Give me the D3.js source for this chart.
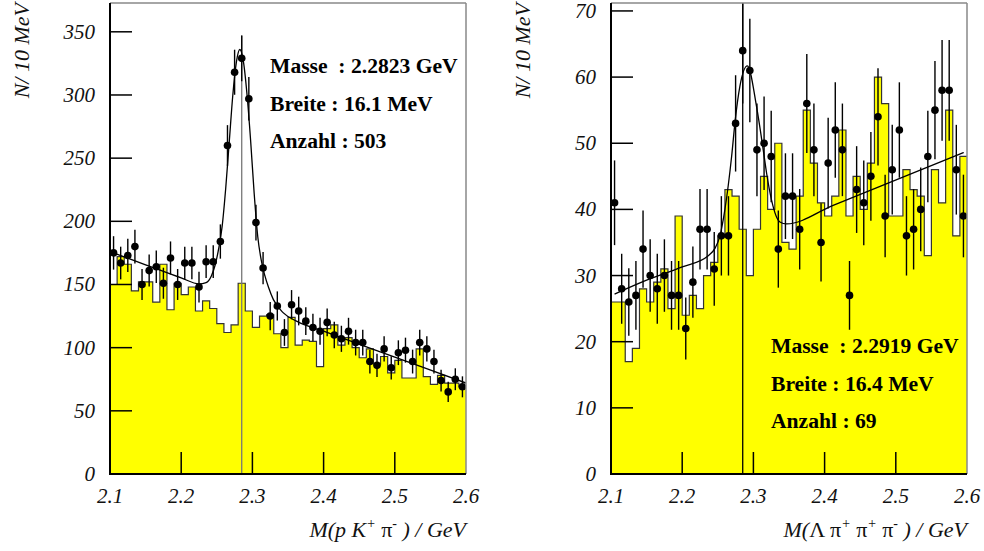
<html>
<head>
  <title> </title>
  <script src="https://d3js.org/d3.v7.min.js"></script>
  <style>
  body { margin: 0; background: white; }
  text { font-family: "Liberation Serif", "Times New Roman", serif; }
  .tick-label { font-style: italic; font-size: 21px; fill: #111; }
  .axis-title { font-style: italic; font-size: 22px; fill: #111; }
  .upright { font-style: normal; }
  .stat { font-weight: bold; font-size: 21.6px; fill: #000; }
  .fit { fill: none; stroke: #000; stroke-width: 1.3px; }
  .err { stroke: #000; stroke-width: 1.4px; }
  .dot { fill: #000; }
  </style>
</head>
<body>
<svg id="chart" width="984" height="551"></svg>
<script>
// bins: 2.10 - 2.60 GeV, 10 MeV wide
const binLo = 2.1, binW = 0.01;

// left: p K+ pi-
const pkpiData = [175,167,173,180,150,161,164,151,171,150,167,167,148,168,168,184,260,318,329,297,
                  199,163,125,133,112,134,129,121,116,113,120,110,107,113,104,104,89,86,99,84,
                  96,98,89,104,99,89,74,65,75,69];
const pkpiBack = [150,172,166,145,152,152,136,166,130,151,142,148,129,137,131,119,112,118,151,129,
                  116,125,126,111,100,124,102,106,105,85,115,118,102,108,100,92,99,87,93,80,
                  90,76,76,99,77,71,78,72,72,69];
const pkpiFit = [[2.100,176],[2.150,165.6],[2.200,155.2],[2.225,150.5],[2.235,151.5],[2.2425,157],
                 [2.2475,165],[2.2525,178],[2.2575,196],[2.2625,226],[2.2675,263],[2.2725,300],
                 [2.2775,326],[2.2823,336],[2.2875,326],[2.2925,300],[2.2975,264],[2.3025,222],
                 [2.3075,188],[2.3125,169],[2.3175,157],[2.3225,148],[2.3295,138],[2.3435,127.5],
                 [2.362,121],[2.40,113],[2.50,92.5],[2.60,72]];
const pkpiTicks = [0,50,100,150,200,250,300,350];
const pkpiStats = ["Masse  : 2.2823 GeV", "Breite : 16.1 MeV", "Anzahl : 503"];

// right: Lambda pi+ pi+ pi-
const l3piData = [41,28,26,27,34,30,28,30,27,27,22,29,37,37,31,36,36,53,64,61,
                  49,50,48,34,42,42,37,56,49,35,47,52,49,27,43,41,45,54,39,46,
                  52,36,37,40,48,55,58,58,46,39];
const l3piBack = [26,26,17,19,28,26,29,31,25,39,24,27,25,30,32,36,43,42,37,30,
                  37,45,40,50,35,34,42,55,47,41,39,42,52,39,45,40,47,60,56,39,
                  39,46,43,42,33,46,41,55,36,48];
const l3piFit = [[2.105,27.2],[2.15,29.3],[2.20,31.3],[2.2366,33.0],[2.246,34.1],[2.253,36],
                 [2.26,40],[2.2694,48],[2.2745,53.5],[2.281,58.6],[2.2915,61.7],[2.3045,55.5],
                 [2.3138,49],[2.3185,45.5],[2.3255,41.4],[2.3372,38.1],[2.3465,37.8],
                 [2.412,40.6],[2.5954,48.6]];
const l3piTicks = [0,10,20,30,40,50,60,70];
const l3piStats = ["Masse  : 2.2919 GeV", "Breite : 16.4 MeV", "Anzahl : 69"];

const xTicks = [2.1,2.2,2.3,2.4,2.5,2.6];
const markMass = 2.285;

const svg = d3.select("#chart");

function drawPanel(opt) {
  const g = svg.append("g");
  const x = d3.scaleLinear().domain([2.1, 2.6]).range([opt.x0, opt.x1]);
  const y = d3.scaleLinear().domain([0, opt.ymax]).range([474, 3]);

  const clipId = "clip" + opt.id;
  svg.append("clipPath").attr("id", clipId)
    .append("rect").attr("x", opt.x0).attr("y", 3)
    .attr("width", opt.x1 - opt.x0).attr("height", 471);

  const plot = g.append("g").attr("clip-path", "url(#" + clipId + ")");

  // background histogram (step)
  const steps = [];
  opt.back.forEach((v, i) => {
    steps.push([binLo + i * binW, v]);
    steps.push([binLo + (i + 1) * binW, v]);
  });
  const area = d3.area().x(d => x(d[0])).y0(y(0)).y1(d => y(d[1]));
  plot.append("path").datum(steps)
    .attr("d", area).attr("fill", "#ffff00").attr("stroke", "none");
  plot.append("path").datum(steps)
    .attr("d", d3.line().x(d => x(d[0])).y(d => y(d[1])))
    .attr("fill", "none").attr("stroke", "#333").attr("stroke-width", 1.2);

  // marker line
  plot.append("line")
    .attr("x1", x(markMass)).attr("x2", x(markMass))
    .attr("y1", y(0)).attr("y2", y(opt.markTop))
    .attr("stroke", opt.markColor).attr("stroke-width", 1.3);

  // fit curve
  plot.append("path").datum(opt.fit)
    .attr("class", "fit")
    .attr("d", d3.line().x(d => x(d[0])).y(d => y(d[1])).curve(d3.curveMonotoneX));

  // data points with sqrt(N) errors
  const pts = plot.selectAll(".pt").data(opt.data).enter().append("g");
  pts.append("line").attr("class", "err")
    .attr("x1", (d, i) => x(binLo + (i + 0.5) * binW))
    .attr("x2", (d, i) => x(binLo + (i + 0.5) * binW))
    .attr("y1", d => y(d - Math.sqrt(d)))
    .attr("y2", d => y(d + Math.sqrt(d)));
  pts.append("circle").attr("class", "dot")
    .attr("cx", (d, i) => x(binLo + (i + 0.5) * binW))
    .attr("cy", d => y(d))
    .attr("r", 3.8);

  // frame
  g.append("line").attr("x1", opt.x0).attr("x2", opt.x1).attr("y1", 3).attr("y2", 3)
    .attr("stroke", "#888").attr("stroke-width", 1.5);
  g.append("line").attr("x1", opt.x1).attr("x2", opt.x1).attr("y1", 3).attr("y2", 474)
    .attr("stroke", "#888").attr("stroke-width", 1.5);
  g.append("line").attr("x1", opt.x0).attr("x2", opt.x0).attr("y1", 3).attr("y2", 475)
    .attr("stroke", "#000").attr("stroke-width", 2);
  g.append("line").attr("x1", opt.x0).attr("x2", opt.x1).attr("y1", 474).attr("y2", 474)
    .attr("stroke", "#000").attr("stroke-width", 2);

  // y ticks
  g.selectAll(".yt").data(opt.yticks).enter().append("line")
    .attr("x1", opt.x0).attr("x2", opt.x0 + 22)
    .attr("y1", d => y(d)).attr("y2", d => y(d))
    .attr("stroke", "#000").attr("stroke-width", 1.5);
  g.selectAll(".yl").data(opt.yticks).enter().append("text")
    .attr("class", "tick-label")
    .attr("x", opt.x0 - 15).attr("y", d => y(d) + 7)
    .attr("text-anchor", "end").text(d => d);

  // x ticks
  g.selectAll(".xt").data(xTicks.slice(1, -1)).enter().append("line")
    .attr("x1", d => x(d)).attr("x2", d => x(d))
    .attr("y1", 474).attr("y2", 474 - 22)
    .attr("stroke", "#000").attr("stroke-width", 1.5);
  g.selectAll(".xl").data(xTicks).enter().append("text")
    .attr("class", "tick-label")
    .attr("x", d => x(d)).attr("y", 503)
    .attr("text-anchor", "middle").text(d => d.toFixed(1));

  // y title
  g.append("text").attr("class", "axis-title")
    .attr("transform", "translate(" + (opt.x0 - 81) + ",3) rotate(-90)")
    .attr("text-anchor", "end").text("N/ 10 MeV");

  // x title: [text, kind] kind: 0 normal, 1 superscript, 2 upright symbol
  const xt = g.append("text").attr("class", "axis-title")
    .attr("x", opt.x1).attr("y", 537).attr("text-anchor", "end")
    .attr("xml:space", "preserve").style("white-space", "pre");
  let raised = false;
  opt.xtitle.forEach(p => {
    const t = xt.append("tspan").text(p[0]);
    if (p[1] === 1) { t.attr("font-size", "14px").attr("dy", "-9"); raised = true; }
    else {
      if (raised) { t.attr("dy", "9"); raised = false; }
      if (p[1] === 2) t.attr("class", "upright");
    }
  });

  // fit stats
  g.selectAll(".st").data(opt.stats).enter().append("text")
    .attr("class", "stat")
    .attr("x", opt.statX).attr("y", (d, i) => opt.statY + i * 37.5)
    .attr("xml:space", "preserve")
    .style("white-space", "pre")
    .text(d => d);
}

drawPanel({
  id: "L", x0: 110, x1: 466, ymax: 372.8,
  data: pkpiData, back: pkpiBack, fit: pkpiFit, yticks: pkpiTicks,
  markTop: 347, markColor: "#777",
  stats: pkpiStats, statX: 270, statY: 73,
  xtitle: [["M(p K", 0], ["+", 1], [" ", 0], ["\u03c0", 2], ["-", 1], [" ) / GeV", 0]]
});

drawPanel({
  id: "R", x0: 611, x1: 967, ymax: 71.2,
  data: l3piData, back: l3piBack, fit: l3piFit, yticks: l3piTicks,
  markTop: 71.2, markColor: "#000",
  stats: l3piStats, statX: 771, statY: 353,
  xtitle: [["M(", 0], ["\u039b \u03c0", 2], ["+", 1], [" ", 0], ["\u03c0", 2], ["+", 1],
           [" ", 0], ["\u03c0", 2], ["-", 1], [" ) / GeV", 0]]
});
</script>
</body>
</html>
